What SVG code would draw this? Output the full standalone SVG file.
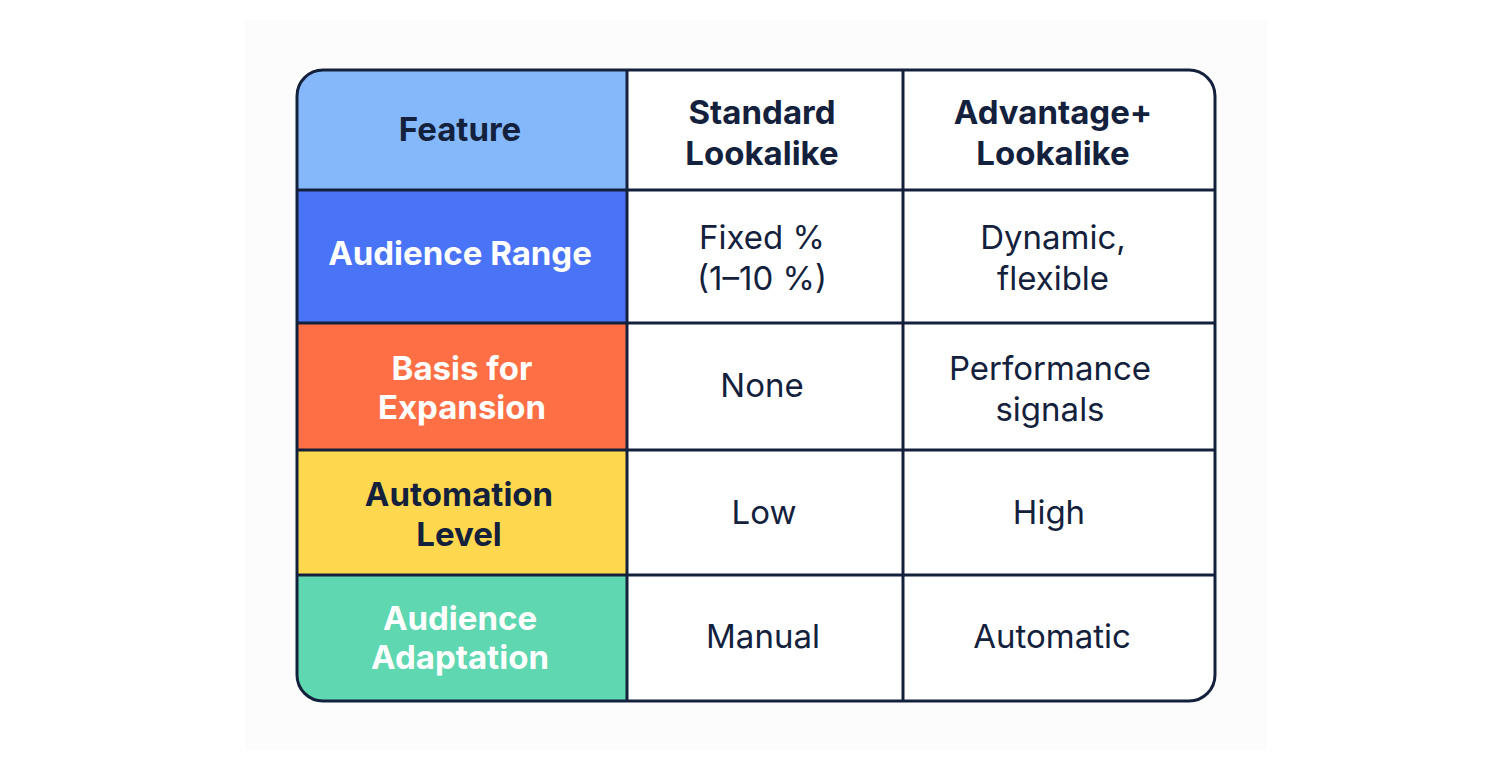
<svg xmlns="http://www.w3.org/2000/svg" width="1512" height="765" viewBox="0 0 1512 765">
<style>
.t{font-family:Inter,"Noto Sans",sans-serif;font-size:33px;fill:#14213d;text-anchor:middle}
.b{font-weight:700}
.w{fill:#ffffff}
.ln{stroke:#14213d;stroke-width:3;fill:none}
</style>
<defs><clipPath id="c"><rect x="297" y="70" width="918" height="631" rx="26"/></clipPath></defs>
<rect width="1512" height="765" fill="#ffffff"/>
<rect x="245" y="20" width="1022" height="730" fill="#fcfcfc"/>
<g clip-path="url(#c)">
<rect x="297" y="70" width="918" height="631" fill="#ffffff"/>
<g id="n-feature"><rect x="297" y="70" width="330" height="120" fill="#85b8fb"/></g>
<g id="n-range"><rect x="297" y="190" width="330" height="133" fill="#4a74f8"/></g>
<g id="n-basis"><rect x="297" y="323" width="330" height="127" fill="#ff6f45"/></g>
<g id="n-auto"><rect x="297" y="450" width="330" height="125" fill="#ffd84f"/></g>
<g id="n-adapt"><rect x="297" y="575" width="330" height="126" fill="#5fd7b0"/></g>
</g>
<g id="connectors">
<rect class="ln" x="297" y="70" width="918" height="631" rx="26"/>
<path class="ln" d="M627 70V701M903 70V701M297 190H1215M297 323H1215M297 450H1215M297 575H1215"/>
</g>
<g id="text">
<text class="t b" x="460" y="141">Feature</text>
<text class="t b" x="762" y="124">Standard</text>
<text class="t b" x="762" y="165">Lookalike</text>
<text class="t b" x="1053" y="124">Advantage+</text>
<text class="t b" x="1053" y="165">Lookalike</text>
<text class="t b w" x="460" y="265">Audience Range</text>
<text class="t" x="762" y="249">Fixed %</text>
<text class="t" x="762" y="290">(1–10 %)</text>
<text class="t" x="1053" y="249">Dynamic,</text>
<text class="t" x="1053" y="290">flexible</text>
<text class="t b w" x="462" y="380">Basis for</text>
<text class="t b w" x="462" y="419">Expansion</text>
<text class="t" x="762" y="397">None</text>
<text class="t" x="1050" y="380">Performance</text>
<text class="t" x="1050" y="421">signals</text>
<text class="t b" x="459" y="506">Automation</text>
<text class="t b" x="459" y="546">Level</text>
<text class="t" x="764" y="524">Low</text>
<text class="t" x="1049" y="524">High</text>
<text class="t b w" x="460" y="630">Audience</text>
<text class="t b w" x="460" y="669">Adaptation</text>
<text class="t" x="763" y="648">Manual</text>
<text class="t" x="1052" y="648">Automatic</text>
</g>
</svg>
